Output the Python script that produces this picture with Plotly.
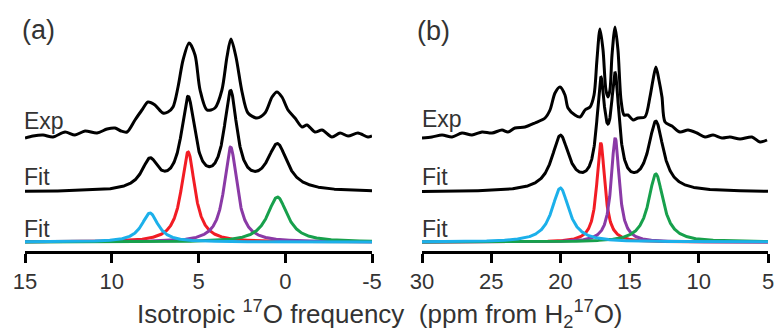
import numpy as np
import plotly.graph_objects as go

# ---------------- data ----------------
# Panel (a): experimental spectrum (ppm, intensity)
A_EXP_PPM = [15.00, 14.54, 13.96, 13.39, 12.69, 12.12, 11.54, 10.85, 10.27, 9.81, 9.47, 9.12,
             8.66, 8.26, 7.91, 7.51, 7.05, 6.76, 6.47, 6.18, 5.89, 5.54, 5.20, 4.91, 4.51,
             4.05, 3.65, 3.36, 3.13, 2.84, 2.49, 2.15, 1.63, 1.17, 0.76, 0.48, 0.19, -0.16,
             -0.56, -0.97, -1.25, -1.71, -2.12, -2.69, -3.16, -3.62, -4.19, -4.77, -5.00]
A_EXP_INT = [-1, 1, 2, 0, 5, 2, 6, 4, 8, 9, 6, 5,
             17, 27, 35, 32, 24, 25, 30, 50, 77, 94, 82, 47, 27,
             29, 47, 80, 98, 80, 45, 24, 19, 24, 40, 45, 40, 27,
             19, 10, 12, 5, 7, 0, 4, 1, 4, 0, 1]
# Panel (a): fitted components (cyan, red, purple, green)
A_PEAK_PPM = [7.8, 5.6, 3.15, 0.45]
A_PEAK_HEIGHT = [29, 90, 95, 45]
A_PEAK_FWHM = [1.15, 0.95, 0.9, 1.4]

# Panel (b): experimental spectrum
B_EXP_PPM = [30.00, 29.28, 28.55, 27.83, 27.11, 26.39, 25.66, 24.94, 24.22, 23.79, 23.28, 22.56,
             21.84, 21.11, 20.75, 20.39, 20.03, 19.67, 19.45, 18.95, 18.58, 18.22, 17.86, 17.57,
             17.36, 17.14, 16.92, 16.71, 16.56, 16.42, 16.27, 16.05, 15.84, 15.62, 15.40, 15.12,
             14.75, 14.39, 13.89, 13.53, 13.31, 13.10, 12.88, 12.66, 12.44, 11.94, 11.36, 10.78,
             10.13, 9.55, 8.97, 8.32, 7.75, 7.02, 6.16, 5.58, 5.07]
B_EXP_INT = [-1, 0, 2, 0, 4, 2, 5, 4, 7, 5, 9, 10,
             14, 19, 27, 44, 50, 42, 29, 22, 20, 27, 30, 42,
             77, 108, 87, 47, 40, 47, 82, 110, 87, 37, 22, 22,
             17, 19, 20, 40, 57, 70, 57, 40, 15, 11, 5, 7,
             4, 0, 2, -1, 0, -2, 0, -5, -3]
B_PEAK_PPM = [20.0, 17.08, 16.04, 13.1]
B_PEAK_HEIGHT = [54, 99, 104, 68]
B_PEAK_FWHM = [1.5, 0.7, 0.7, 1.3]

COMPONENT_COLORS = ["#1cb0ea", "#f21c24", "#8a3aa6", "#17a04c"]
TICKS_A = [15, 10, 5, 0, -5]
TICKS_B = [30, 25, 20, 15, 10, 5]
TICK_TEXT_A = ["15", "10", "5", "0", "-5"]
TICK_TEXT_B = ["30", "25", "20", "15", "10", "5"]

# vertical offsets of the stacked traces
OFF_EXP, OFF_FIT, OFF_COMP = 114, 59, 9


def lorentz(x, c, h, w):
    return h / (1.0 + ((x - c) / (w / 2.0)) ** 2)


W, H = 779, 332
fig = go.Figure()

panels = [
    ("x", "y", A_EXP_PPM, A_EXP_INT, A_PEAK_PPM, A_PEAK_HEIGHT, A_PEAK_FWHM, (15, -5)),
    ("x2", "y2", B_EXP_PPM, B_EXP_INT, B_PEAK_PPM, B_PEAK_HEIGHT, B_PEAK_FWHM, (30, 5)),
]

for xa, ya, ep, ei, pp, ph, pw, rng in panels:
    grid = np.linspace(rng[0], rng[1], 1201)
    comps = [lorentz(grid, c, h, w) for c, h, w in zip(pp, ph, pw)]
    total = np.sum(comps, axis=0)
    fig.add_trace(go.Scatter(x=ep, y=np.array(ei) + OFF_EXP, mode="lines",
                             line=dict(color="black", width=3, shape="spline", smoothing=0.8),
                             xaxis=xa, yaxis=ya, showlegend=False, hoverinfo="skip"))
    fig.add_trace(go.Scatter(x=grid, y=total + OFF_FIT, mode="lines",
                             line=dict(color="black", width=3),
                             xaxis=xa, yaxis=ya, showlegend=False, hoverinfo="skip"))
    for idx in [1, 2, 3, 0]:
        fig.add_trace(go.Scatter(x=grid, y=comps[idx] + OFF_COMP, mode="lines",
                                 line=dict(color=COMPONENT_COLORS[idx], width=3),
                                 xaxis=xa, yaxis=ya, showlegend=False, hoverinfo="skip"))

FONT = "Liberation Sans, Arial, sans-serif"
TXT = "#333333"

axis_common = dict(showline=True, linecolor="black", linewidth=3, ticks="outside",
                   ticklen=9, tickwidth=3, tickcolor="black", showgrid=False,
                   zeroline=False, automargin=False,
                   tickfont=dict(family=FONT, size=22, color=TXT))
ydom = [(H - 251) / H, (H - 10) / H]

fig.update_layout(
    width=W, height=H, margin=dict(l=0, r=0, t=0, b=0, pad=0, autoexpand=False),
    paper_bgcolor="white", plot_bgcolor="white",
    xaxis=dict(domain=[25 / W, 372 / W], range=[15, -5], anchor="y",
               tickvals=TICKS_A, ticktext=TICK_TEXT_A, **axis_common),
    yaxis=dict(domain=ydom, range=[0, 241], visible=False, anchor="x"),
    xaxis2=dict(domain=[422 / W, 768 / W], range=[30, 5], anchor="y2",
                tickvals=TICKS_B, ticktext=TICK_TEXT_B, **axis_common),
    yaxis2=dict(domain=ydom, range=[0, 241], visible=False, anchor="x2"),
)


def label(text, xpx, ypx, size, anchor="left"):
    fig.add_annotation(text=text, x=xpx / W, y=1 - ypx / H, xref="paper", yref="paper",
                       xanchor=anchor, yanchor="middle", showarrow=False,
                       font=dict(family=FONT, size=size, color=TXT))


label("(a)", 20, 30, 27)
label("(b)", 415, 31, 27)
for x0 in (22, 420):
    label("Exp", x0, 121 if x0 == 22 else 119, 23)
    label("Fit", x0, 177, 23)
    label("Fit", x0, 229, 23)

label("Isotropic <sup>17</sup>O frequency\u00a0\u00a0(ppm from H<sub>2</sub><sup>17</sup>O)",
      380, 314, 26, anchor="center")

fig.write_html("out.html", config={"displayModeBar": False},
               post_script="document.body.style.margin='0';document.body.style.overflow='hidden';")
